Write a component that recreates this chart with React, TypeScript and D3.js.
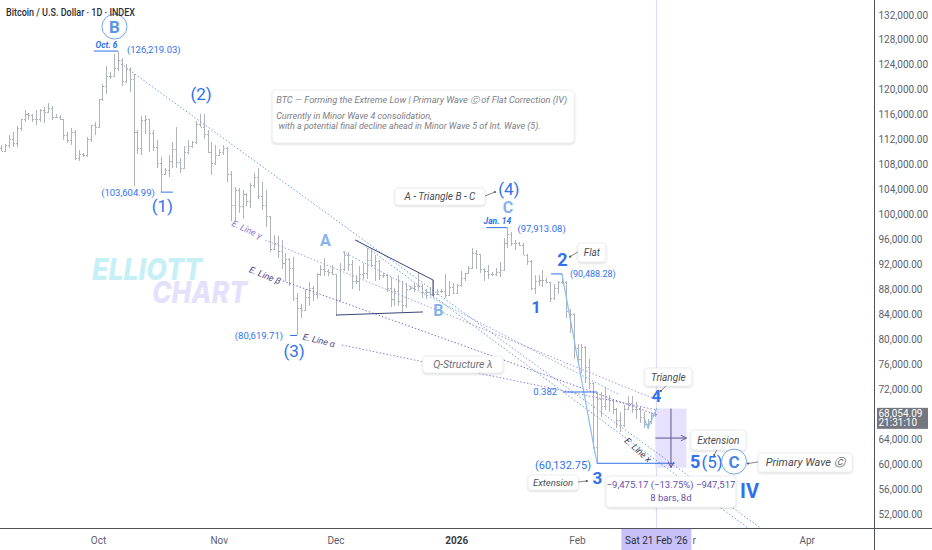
import React from 'react';
import * as d3 from 'd3';

const W = 932;
const H = 550;
const DAY = 86400000;
const OCT1 = Date.UTC(2025, 9, 1);
const FEB1 = Date.UTC(2026, 1, 1);
const FIRST_BAR = Date.UTC(2025, 8, 6);

// Daily OHLC (USD thousands) [open, high, low, close], Sep 6 2025 -> Feb 21 2026
const ohlc: [number, number, number, number][] = [
  [110.7, 111.2, 110.2, 110.2], [110.2, 111.3, 110.0, 111.2], [111.2, 112.8, 110.6, 112.1], [112.1, 113.2, 110.8, 111.5],
  [111.5, 114.2, 110.8, 113.9], [113.9, 115.4, 113.4, 115.4], [115.4, 116.8, 114.9, 116.1], [116.1, 116.3, 115.2, 115.9],
  [115.9, 116.1, 114.8, 115.3], [115.3, 116.8, 114.4, 115.4], [115.4, 117.0, 114.8, 116.8], [116.8, 117.3, 114.7, 116.5],
  [116.5, 117.9, 116.3, 117.1], [117.1, 117.4, 115.2, 115.7], [115.7, 116.1, 115.5, 115.7], [115.7, 115.9, 115.2, 115.3],
  [115.3, 115.4, 112.0, 112.7], [112.7, 113.3, 111.5, 112.0], [112.0, 113.9, 111.1, 113.3], [113.3, 113.5, 108.7, 109.0],
  [109.0, 110.3, 108.6, 109.7], [109.7, 109.8, 109.2, 109.6], [109.6, 112.4, 109.3, 112.2], [112.2, 114.4, 111.6, 114.3],
  [114.3, 114.8, 112.7, 114.0],
  // Oct
  [114.0, 118.6, 113.9, 118.6], [118.6, 121.0, 118.2, 120.6], [120.6, 123.9, 119.3, 122.3], [122.3, 122.9, 121.7, 122.3],
  [122.3, 125.7, 122.1, 123.5], [123.5, 126.219, 123.1, 124.8], [124.8, 125.1, 120.6, 121.4], [121.4, 124.1, 121.1, 123.3],
  [123.3, 123.7, 119.7, 121.7], [121.7, 122.5, 104.6, 113.2], [113.2, 113.5, 109.7, 110.6], [110.6, 115.8, 109.6, 115.2],
  [115.2, 115.9, 113.0, 115.3], [115.3, 115.3, 110.0, 113.1], [113.1, 113.6, 110.2, 110.8], [110.8, 111.9, 107.5, 108.2],
  [108.2, 109.2, 103.605, 106.5], [106.5, 107.5, 106.4, 107.2], [107.2, 109.5, 106.1, 108.6], [108.6, 111.7, 107.5, 110.5],
  [110.5, 114.0, 107.5, 108.4], [108.4, 109.1, 106.7, 107.5], [107.5, 111.0, 107.3, 110.1], [110.1, 111.9, 109.7, 111.0],
  [111.0, 111.8, 110.6, 111.6], [111.6, 115.0, 111.3, 114.5], [114.5, 116.2, 114.1, 114.1], [114.1, 116.1, 112.2, 112.9],
  [112.9, 113.6, 109.9, 110.0], [110.0, 111.6, 106.3, 108.3], [108.3, 111.1, 108.0, 109.6],
  // Nov
  [109.6, 110.5, 109.4, 110.1], [110.1, 111.2, 109.5, 110.6], [110.6, 110.8, 105.3, 106.5], [106.5, 107.0, 98.9, 101.5],
  [101.5, 104.5, 98.9, 103.9], [103.9, 104.2, 100.3, 101.3], [101.3, 104.0, 99.3, 103.3], [103.3, 103.4, 101.4, 102.2],
  [102.2, 105.0, 101.0, 104.7], [104.7, 106.6, 104.3, 106.0], [106.0, 107.5, 102.5, 103.0], [103.0, 105.3, 100.8, 101.6],
  [101.6, 104.0, 98.0, 99.7], [99.7, 99.8, 94.0, 94.5], [94.5, 96.8, 94.3, 95.5], [95.5, 96.6, 93.0, 94.2],
  [94.2, 96.0, 91.2, 92.2], [92.2, 93.8, 89.3, 92.9], [92.9, 93.0, 88.6, 91.5], [91.5, 93.2, 86.1, 86.6],
  [86.6, 87.5, 80.62, 85.1], [85.1, 85.6, 83.5, 84.7], [84.7, 88.0, 84.7, 86.8], [86.8, 89.2, 85.3, 88.3],
  [88.3, 88.5, 86.1, 87.3], [87.3, 90.6, 86.4, 90.5], [90.5, 91.9, 90.1, 91.3], [91.3, 93.1, 90.2, 90.9],
  [90.9, 91.2, 90.2, 90.8], [90.8, 92.0, 90.3, 90.4],
  // Dec
  [90.4, 90.4, 83.8, 86.3], [86.3, 92.3, 86.2, 91.3], [91.3, 94.1, 91.0, 93.5], [93.5, 94.0, 90.9, 92.1],
  [92.1, 92.7, 88.1, 89.4], [89.4, 90.3, 88.9, 89.3], [89.3, 91.7, 87.7, 90.4], [90.4, 92.3, 89.6, 90.6],
  [90.6, 94.6, 89.6, 92.7], [92.7, 94.5, 91.6, 92.0], [92.0, 93.5, 89.3, 92.5], [92.5, 92.7, 89.5, 90.3],
  [90.3, 90.6, 89.8, 90.3], [90.3, 90.5, 87.6, 88.2], [88.2, 90.0, 85.2, 86.4], [86.4, 88.2, 85.3, 87.8],
  [87.8, 90.3, 85.4, 86.1], [86.1, 89.4, 84.4, 85.5], [85.5, 89.0, 85.1, 88.1], [88.1, 88.6, 87.9, 88.3],
  [88.3, 89.0, 87.6, 88.6], [88.6, 90.6, 87.9, 88.5], [88.5, 88.9, 86.6, 87.6], [87.6, 88.0, 86.4, 87.6],
  [87.6, 88.4, 86.9, 87.3], [87.3, 89.5, 86.6, 87.3], [87.3, 88.0, 87.2, 87.8], [87.8, 88.0, 87.4, 87.8],
  [87.8, 90.4, 86.7, 87.1], [87.1, 89.3, 86.9, 88.4], [88.4, 89.0, 87.3, 87.5],
  // Jan
  [87.5, 88.8, 87.3, 88.7], [88.7, 90.9, 88.4, 89.9], [89.9, 90.7, 89.3, 90.6], [90.6, 91.8, 90.5, 91.4],
  [91.4, 94.7, 91.3, 93.8], [93.8, 94.3, 91.3, 93.7], [93.7, 93.7, 90.7, 91.3], [91.3, 91.5, 89.4, 91.0],
  [91.0, 91.9, 89.7, 90.5], [90.5, 90.8, 90.2, 90.4], [90.4, 91.4, 90.2, 90.8], [90.8, 92.4, 90.0, 91.1],
  [91.1, 96.2, 90.9, 95.4], [95.4, 97.913, 94.6, 96.9], [96.9, 97.2, 95.0, 95.5], [95.5, 95.9, 94.3, 95.5],
  [95.5, 95.6, 94.9, 95.1], [95.1, 95.5, 93.6, 93.6], [93.6, 93.7, 91.9, 92.6], [92.6, 92.8, 87.9, 88.3],
  [88.3, 90.3, 87.3, 89.4], [89.4, 90.3, 88.5, 89.5], [89.5, 91.1, 88.4, 89.5], [89.5, 89.8, 89.1, 89.2],
  [89.2, 89.2, 86.0, 86.6], [86.6, 88.8, 86.3, 88.3], [88.3, 89.4, 87.2, 89.2], [89.2, 90.488, 88.8, 89.2],
  [89.2, 89.3, 83.4, 84.5], [84.5, 84.9, 81.0, 84.1], [84.1, 84.2, 76.8, 78.6],
  // Feb
  [78.6, 79.2, 75.8, 76.9], [76.9, 79.2, 74.6, 78.7], [78.7, 79.0, 73.0, 75.6], [75.6, 76.9, 72.1, 73.0],
  [73.0, 73.2, 62.5, 62.7], [62.7, 71.5, 60.133, 70.5], [70.5, 71.5, 67.5, 69.3], [69.3, 72.3, 68.6, 70.5],
  [70.5, 71.0, 68.3, 70.2], [70.2, 70.5, 68.0, 68.8], [68.8, 69.0, 65.8, 67.0], [67.0, 68.3, 65.1, 66.2],
  [66.2, 69.4, 66.0, 68.9], [68.9, 70.9, 68.7, 69.8], [69.8, 70.9, 68.2, 68.8], [68.8, 70.0, 67.3, 68.9],
  [68.9, 69.2, 66.6, 67.5], [67.5, 68.4, 65.8, 66.4], [66.4, 67.3, 65.6, 66.9], [66.9, 68.3, 66.4, 67.9],
  [67.9, 68.4, 67.5, 68.054],
];

const priceTicks = [52000, 56000, 60000, 64000, 72000, 76000, 80000, 84000, 88000, 92000, 96000,
  100000, 104000, 108000, 112000, 116000, 120000, 124000, 128000, 132000];

const timeTicks = [
  { t: Date.UTC(2025, 9, 1), label: 'Oct', bold: false },
  { t: Date.UTC(2025, 10, 1), label: 'Nov', bold: false },
  { t: Date.UTC(2025, 11, 1), label: 'Dec', bold: false },
  { t: Date.UTC(2026, 0, 1), label: '2026', bold: true },
  { t: Date.UTC(2026, 1, 1), label: 'Feb', bold: false },
  { t: Date.UTC(2026, 2, 1), label: 'Mar', bold: false },
  { t: Date.UTC(2026, 3, 1), label: 'Apr', bold: false },
];

const lastPrice = 68054.09;
const crossDay = 143; // Feb 21 (days after Oct 1)

// trend lines: [dayFromOct1, price]
const trendLines = [
  { pts: [[5, 124500], [170, 49750]], color: '#6d9fe0', dash: '1.5 2' },
  { pts: [[66.4, 95930], [166.8, 49750]], color: '#6d9fe0', dash: '1.5 2' },
  { pts: [[62.8, 94000], [133.9, 71080]], color: '#7fa8d8', dash: '1.5 2' },
  { pts: [[42.8, 95930], [143.4, 70280]], color: '#a697e6', dash: '1.5 2' },
  { pts: [[47.4, 89360], [143.4, 67870]], color: '#7d6fc8', dash: '1.5 2' },
  { pts: [[62.5, 79090], [143.4, 68670]], color: '#8f7fd8', dash: '1.5 2' },
];
const triangleLines = [
  [[65.9, 95930], [85.9, 89520], [85.9, 86950]],
  [[61.0, 83900], [83.3, 84390]],
];
const wavePaths = [
  [[119, 90488], [128, 60133]],
  [[140.3, 67070], [141.1, 65790], [143.4, 69000]],
];
const levelLines = [
  [[119.3, 71560], [128, 71560]],
  [[128, 60132.75], [148, 60132.75]],
  [[-1.2, 126219], [5, 126219]],
  [[16, 103605], [19.1, 103605]],
  [[49.2, 80620], [51, 80620]],
  [[99.6, 97913], [105, 97913]],
  [[116.2, 90488], [119, 90488]],
];

// measure tool
const measure = { d0: 143, d1: 151, p0: 68910, p1: 59434.83 };

const BLUE = '#2f72ec';
const LIGHT = '#86b2ef';
const FONT = 'Roboto, "Noto Sans", Arial, sans-serif';

export default function App() {
  const x = d3.scaleUtc().domain([new Date(OCT1), new Date(FEB1)]).range([98.5, 577.5]);
  const y = d3.scaleLinear().domain([52000, 132000]).range([514, 15]);
  const X = (n: number) => x(new Date(OCT1 + n * DAY));
  const line = d3.line<number[]>().x((d) => X(d[0])).y((d) => y(d[1]));

  const AX = 874; // price axis separator
  const AY = 528; // time axis separator

  const waveText = (t: string, day: number, price: number, dx: number, dy: number, size: number, weight: number, color: string) => (
    <text x={X(day) + dx} y={y(price) + dy} fontSize={size} fontWeight={weight} fill={color}
      textAnchor="middle" dominantBaseline="central" fontFamily={FONT}>{t}</text>
  );
  const valText = (t: string, day: number, price: number, dx: number, dy: number, anchor: string, size = 9.5) => (
    <text x={X(day) + dx} y={y(price) + dy} fontSize={size} fill={BLUE} textAnchor={anchor as any}
      dominantBaseline="central" fontFamily={FONT}>{t}</text>
  );
  const callout = (t: string, day: number, price: number, w: number, h: number, from: [number, number], tip: [number, number], size = 10) => {
    const bx = X(day), by = y(price);
    const tx = X(tip[0]), ty = y(tip[1]);
    return (
      <g>
        <rect x={bx} y={by} width={w} height={h} rx={3} fill="#fff" stroke="#e3e5ea" strokeWidth={0.6} filter="url(#sh)" />
        <text x={bx + w / 2} y={by + h / 2 + 0.5} fontSize={size} fontStyle="italic" fill="#4a4c54"
          textAnchor="middle" dominantBaseline="central" fontFamily={FONT}>{t}</text>
        <line x1={bx + from[0]} y1={by + from[1]} x2={tx} y2={ty} stroke="#666" strokeWidth={0.8} />
        <circle cx={tx} cy={ty} r={1.1} fill="#555" />
      </g>
    );
  };
  const eLabel = (t: string, day: number, price: number, angle: number, color: string) => (
    <text x={X(day)} y={y(price)} fontSize={9} fontStyle="italic" fill={color} textAnchor="middle"
      dominantBaseline="central" fontFamily={FONT} transform={`rotate(${angle} ${X(day)} ${y(price)})`}>{t}</text>
  );

  const mx0 = X(measure.d0), mx1 = X(measure.d1);
  const my0 = y(measure.p0), my1 = y(measure.p1);
  const mmx = (mx0 + mx1) / 2, mmy = (my0 + my1) / 2;
  const diff = measure.p1 - measure.p0;
  const pct = (diff / measure.p0) * 100;
  const fmt = d3.format(',.2f');
  const crossX = X(crossDay);

  const Oct6 = 5, Oct17 = 16, Oct27 = 26, Nov21 = 51, Nov28 = 58, Dec26 = 86, Jan14 = 105, Jan21 = 112, Jan28 = 119, Feb6 = 128;
  const ibx = X(44.6), iby = y(119976);

  return (
    <svg width={W} height={H} style={{ position: 'absolute', left: 0, top: 0, background: '#fff' }} fontFamily={FONT}>
      <defs>
        <filter id="sh" x="-20%" y="-30%" width="140%" height="180%">
          <feDropShadow dx="0" dy="1" stdDeviation="1.2" floodColor="#000" floodOpacity="0.18" />
        </filter>
        <marker id="arr" viewBox="0 0 10 10" refX="9" refY="5" markerWidth="7" markerHeight="7" orient="auto">
          <path d="M1,1 L9,5 L1,9" fill="none" stroke="#5d5490" strokeWidth="1.3" />
        </marker>
      </defs>
      <rect x={0} y={0} width={W} height={H} fill="#fff" />

      {/* watermark */}
      <text x={92} y={280} fontSize={30} fontWeight={800} fontStyle="italic" fill="#c6f0f6" textLength={110}
        lengthAdjust="spacingAndGlyphs" fontFamily="Inter, Roboto, sans-serif">ELLIOTT</text>
      <text x={152} y={303} fontSize={30} fontWeight={800} fontStyle="italic" fill="#e5e1fd" textLength={95}
        lengthAdjust="spacingAndGlyphs" fontFamily="Inter, Roboto, sans-serif">CHART</text>

      {/* crosshair vertical */}
      <line x1={crossX + 1} x2={crossX + 1} y1={0} y2={AY} stroke="#d9d4f7" strokeWidth={1} />

      {/* measure box */}
      <rect x={mx0} y={my0} width={mx1 - mx0} height={my1 - my0} fill="#e6e1fc" />

      {/* bars */}
      <g stroke="#b0b3ba" strokeWidth={1} shapeRendering="crispEdges">
        {ohlc.map((b, i) => {
          const cx = Math.round(x(new Date(FIRST_BAR + i * DAY))) + 0.5;
          return (
            <g key={i}>
              <line x1={cx} x2={cx} y1={y(b[1] * 1000)} y2={y(b[2] * 1000)} />
              <line x1={cx - 1.5} x2={cx} y1={Math.round(y(b[0] * 1000)) + 0.5} y2={Math.round(y(b[0] * 1000)) + 0.5} />
              <line x1={cx} x2={cx + 1.5} y1={Math.round(y(b[3] * 1000)) + 0.5} y2={Math.round(y(b[3] * 1000)) + 0.5} />
            </g>
          );
        })}
      </g>

      {/* trend lines */}
      {trendLines.map((l, i) => (
        <path key={i} d={line(l.pts) || ''} fill="none" stroke={l.color} strokeWidth={1} strokeDasharray={l.dash} />
      ))}
      {triangleLines.map((l, i) => (
        <path key={i} d={line(l) || ''} fill="none" stroke="#3b4778" strokeWidth={1} />
      ))}
      {wavePaths.map((l, i) => (
        <path key={i} d={line(l) || ''} fill="none" stroke="#8cbdf2" strokeWidth={1.2} />
      ))}
      {levelLines.map((l, i) => (
        <path key={i} d={line(l) || ''} fill="none" stroke={BLUE} strokeWidth={1} />
      ))}

      {/* measure arrows */}
      <line x1={mmx} x2={mmx} y1={my0} y2={my1} stroke="#5d5490" strokeWidth={1} markerEnd="url(#arr)" />
      <line x1={mx0} x2={mx1} y1={mmy} y2={mmy} stroke="#5d5490" strokeWidth={1} markerEnd="url(#arr)" />

      {/* E. Line labels */}
      {eLabel('E. Line γ', 38.1, 97611, 25, '#8a7dd4')}
      {eLabel('E. Line β', 42.76, 90235, 22, '#4f4688')}
      {eLabel('E. Line α', 56.6, 79815, 14, '#4f4688')}
      {eLabel('E. Line x', 138.5, 62261, 42, '#2f3553')}

      {/* info box */}
      <rect x={ibx} y={iby} width={302} height={53} rx={4} fill="#fff" stroke="#e3e5ea" strokeWidth={0.6} filter="url(#sh)" />
      <g fontStyle="italic" fill="#7b7e88" fontFamily={FONT}>
        <text x={ibx + 4} y={iby + 10} fontSize={8.4} dominantBaseline="central" textLength={291} lengthAdjust="spacingAndGlyphs">BTC — Forming the Extreme Low | Primary Wave Ⓒ of Flat Correction (IV)</text>
        <text x={ibx + 4} y={iby + 26} fontSize={9} dominantBaseline="central">Currently in Minor Wave 4 consolidation,</text>
        <text x={ibx + 4} y={iby + 36} fontSize={9} dominantBaseline="central">{'\u00a0with a potential final decline ahead in Minor Wave 5 of Int. Wave (5).'}</text>
      </g>

      {/* callouts */}
      {callout('A - Triangle B - C', 76.14, 104265, 90, 17, [90, 8], [101.8, 103623])}
      {callout('Flat', 123.1, 95447, 28, 19, [0, 9], [121.1, 93250])}
      {callout('Triangle', 140.3, 75407, 47, 18, [21, 18], [144.4, 71720])}
      {callout('Extension', 110.3, 58253, 50, 15, [50, 7], [125.4, 57291], 9.5)}
      {callout('Extension', 152.1, 65467, 55, 20, [26, 20], [158.1, 61459])}
      {callout('Primary Wave Ⓒ', 169.4, 61780, 94, 19, [0, 9], [166.8, 60097], 11)}
      {/* Q-structure */}
      <rect x={X(83.3)} y={y(77331)} width={80} height={17} rx={3} fill="#fff" stroke="#e3e5ea" strokeWidth={0.6} filter="url(#sh)" />
      <text x={X(83.3) + 40} y={y(77331) + 9} fontSize={10.5} fontStyle="italic" fill="#6e7079" textAnchor="middle"
        dominantBaseline="central">Q-Structure λ</text>

      {/* stats box */}
      <rect x={mmx - 65} y={my1 + 8.5} width={130} height={31} rx={4} fill="#fff" stroke="#e3e5ea" strokeWidth={0.6} filter="url(#sh)" />
      <text x={mmx} y={my1 + 17} fontSize={9.5} fill="#5f52a8" textAnchor="middle" dominantBaseline="central">
        {`${fmt(diff).replace('-', '−')} (${d3.format('.2f')(pct).replace('-', '−')}%) −947,517`}
      </text>
      <text x={mmx} y={my1 + 30} fontSize={9.5} fill="#5f52a8" textAnchor="middle" dominantBaseline="central">
        {`${measure.d1 - measure.d0} bars, ${measure.d1 - measure.d0}d`}
      </text>

      {/* pivot value labels */}
      <text x={X(Oct6) - 11.5} y={y(126219) - 6.5} fontSize={8.5} fontWeight={700} fontStyle="italic" fill={BLUE}
        textAnchor="middle" dominantBaseline="central">Oct. 6</text>
      {valText('(126,219.03)', Oct6, 126219, 9, -1.5, 'start')}
      {valText('(103,604.99)', Oct17, 103605, -6, 0, 'end')}
      {valText('(80,619.71)', Nov21, 80620, -14, 0.5, 'end')}
      <text x={X(Jan14) - 10} y={y(97913) - 7} fontSize={8.5} fontWeight={700} fontStyle="italic" fill={BLUE}
        textAnchor="middle" dominantBaseline="central">Jan. 14</text>
      {valText('(97,913.08)', Jan14, 97913, 10, 1, 'start')}
      {valText('(90,488.28)', Jan28, 90488, 8, 0, 'start', 9)}
      {valText('0.382', 119.3, 71560, -6, 0, 'end')}
      {valText('(60,132.75)', Feb6, 60132.75, -6, 2, 'end', 11)}

      {/* wave labels */}
      <circle cx={X(Oct6) - 3.5} cy={y(126219) - 24.5} r={12.5} fill="#fff" stroke="#74a6ee" strokeWidth={1} />
      {waveText('B', Oct6, 126219, -3.5, -24, 17, 700, '#5d95e6')}
      {waveText('(2)', Oct27, 116200, 1.3, -20, 17, 400, BLUE)}
      {waveText('(1)', Oct17, 103605, 1.5, 14, 17, 400, BLUE)}
      {waveText('(3)', Nov21, 80620, -3, 16, 17, 400, BLUE)}
      {waveText('(4)', Jan14, 97913, 1.5, -39, 17, 400, BLUE)}
      {waveText('A', Nov28, 93100, 1, -17, 16, 700, LIGHT)}
      {waveText('B', Dec26, 86600, 5, 12, 16, 700, LIGHT)}
      {waveText('C', Jan14, 97913, 0.5, -20, 16, 700, LIGHT)}
      {waveText('1', Jan21, 87300, 1.5, 14, 16, 700, BLUE)}
      {waveText('2', Jan28, 90488, 0.5, -14, 18, 700, BLUE)}
      {waveText('3', Feb6, 60133, 0.5, 15, 17, 700, BLUE)}
      {waveText('4', crossDay, lastPrice, 1, -18, 17, 700, BLUE)}
      {waveText('5', measure.d1, measure.p1, 8.5, -6, 18, 700, BLUE)}
      {waveText('(5)', measure.d1, measure.p1, 25.5, -6, 17, 400, BLUE)}
      <circle cx={X(measure.d1) + 47.5} cy={y(measure.p1) - 6} r={12.5} fill="#fff" stroke="#74a6ee" strokeWidth={1} />
      {waveText('C', measure.d1, measure.p1, 47.5, -5.5, 17, 700, '#4a86e6')}
      {waveText('IV', measure.d1, measure.p1, 63, 23, 20, 700, BLUE)}

      {/* title */}
      <text x={6} y={12} fontSize={10.5} fontWeight={500} fill="#2a2e39" dominantBaseline="central"
        textLength={129} lengthAdjust="spacingAndGlyphs">Bitcoin / U.S. Dollar · 1D · INDEX</text>

      {/* axes */}
      <rect x={AX} y={0} width={W - AX} height={H} fill="#fff" />
      <rect x={0} y={AY} width={W} height={H - AY} fill="#fff" />
      <line x1={AX + 0.5} x2={AX + 0.5} y1={0} y2={H} stroke="#50535e" strokeWidth={1} />
      <line x1={0} x2={W} y1={AY + 0.5} y2={AY + 0.5} stroke="#50535e" strokeWidth={1} />
      {priceTicks.map((p) => (
        <text key={p} x={AX + 4.5} y={y(p)} fontSize={10} fill="#5d606b" dominantBaseline="central">{fmt(p)}</text>
      ))}
      <rect x={AX + 3} y={y(lastPrice) - 6} width={51} height={21} fill="#74777f" />
      <text x={AX + 4.5} y={y(lastPrice) - 0.5} fontSize={10} fill="#fff" dominantBaseline="central">{fmt(lastPrice)}</text>
      <text x={AX + 4.5} y={y(lastPrice) + 9} fontSize={10} fill="#fff" dominantBaseline="central">21:31:10</text>

      {timeTicks.filter((t) => t.label !== 'Mar').map((t) => (
        <text key={t.label} x={x(new Date(t.t))} y={540} fontSize={10} fontWeight={t.bold ? 700 : 400}
          fill={t.bold ? '#3a3d46' : '#5d606b'} textAnchor="middle" dominantBaseline="central">{t.label}</text>
      ))}
      {/* "Mar" label, mostly hidden behind the crosshair date label */}
      <text x={crossX + 37} y={540} fontSize={10} fill="#5d606b" textAnchor="start" dominantBaseline="central">r</text>
      <rect x={crossX + 1 - 35} y={AY + 1} width={70} height={H - AY - 1} fill="#c8c0f8" />
      <text x={crossX + 1} y={540} fontSize={10} fill="#2a2e39" textAnchor="middle" dominantBaseline="central">Sat 21 Feb '26</text>
    </svg>
  );
}
